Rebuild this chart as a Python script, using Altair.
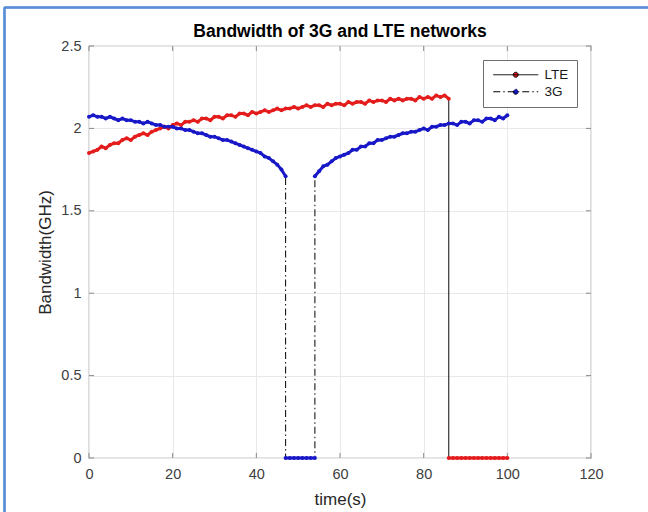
import altair as alt
import pandas as pd

# ---------------- data ----------------
chart_title = "Bandwidth of 3G and LTE networks"
x_ticks = [0, 20, 40, 60, 80, 100, 120]
y_ticks = [0, 0.5, 1, 1.5, 2, 2.5]

lte_time = list(range(0, 87)) + list(range(86, 101))
lte_bw = [
    1.85, 1.86, 1.87, 1.89, 1.88, 1.90, 1.91, 1.91, 1.93, 1.94,
    1.93, 1.95, 1.96, 1.97, 1.96, 1.98, 1.99, 2.00, 2.01, 2.00,
    2.02, 2.03, 2.02, 2.04, 2.04, 2.05, 2.04, 2.06, 2.06, 2.05,
    2.07, 2.07, 2.06, 2.08, 2.08, 2.07, 2.09, 2.09, 2.08, 2.10,
    2.09, 2.10, 2.11, 2.10, 2.11, 2.12, 2.11, 2.12, 2.12, 2.13,
    2.12, 2.13, 2.14, 2.13, 2.14, 2.14, 2.13, 2.15, 2.14, 2.15,
    2.15, 2.14, 2.16, 2.15, 2.16, 2.16, 2.15, 2.17, 2.16, 2.17,
    2.17, 2.16, 2.18, 2.17, 2.18, 2.17, 2.18, 2.18, 2.17, 2.19,
    2.18, 2.19, 2.18, 2.20, 2.19, 2.20, 2.18,
    0, 0, 0, 0, 0, 0, 0, 0, 0, 0, 0, 0, 0, 0, 0,
]
lte_seg = [1] * 87 + [2] * 15

g3_time = list(range(0, 48)) + list(range(47, 55)) + list(range(54, 101))
g3_bw = [
    2.07, 2.08, 2.07, 2.07, 2.06, 2.07, 2.06, 2.05, 2.06, 2.05,
    2.05, 2.04, 2.04, 2.03, 2.04, 2.03, 2.02, 2.02, 2.01, 2.01,
    2.01, 2.00, 2.00, 1.99, 1.99, 1.98, 1.97, 1.97, 1.96, 1.95,
    1.95, 1.94, 1.93, 1.93, 1.92, 1.91, 1.90, 1.89, 1.88, 1.87,
    1.86, 1.85, 1.83, 1.82, 1.80, 1.78, 1.75, 1.71,
    0, 0, 0, 0, 0, 0, 0, 0,
    1.71, 1.74, 1.77, 1.78, 1.80, 1.82, 1.83, 1.84, 1.85, 1.87,
    1.87, 1.89, 1.89, 1.91, 1.91, 1.93, 1.93, 1.94, 1.95, 1.95,
    1.96, 1.97, 1.97, 1.98, 1.98, 1.99, 2.00, 1.99, 2.01, 2.01,
    2.02, 2.02, 2.03, 2.03, 2.02, 2.04, 2.04, 2.03, 2.05, 2.05,
    2.04, 2.06, 2.06, 2.05, 2.07, 2.06, 2.08,
]
g3_seg = [1] * 48 + [2] * 8 + [3] * 47

series_names = ["LTE", "3G"]
series_colors = ["#e41c1c", "#1818c8"]
series_dash = [[1, 0], [7, 3, 1.5, 3]]

# ---------------- table ----------------
rows = []
for i, (t, v, s) in enumerate(zip(lte_time, lte_bw, lte_seg)):
    rows.append({"t": t, "bw": v, "series": "LTE", "seg": f"LTE{s}", "idx": i})
for i, (t, v, s) in enumerate(zip(g3_time, g3_bw, g3_seg)):
    rows.append({"t": t, "bw": v, "series": "3G", "seg": f"3G{s}", "idx": i})
df = pd.DataFrame(rows)

xt = pd.DataFrame({"t": x_ticks})
yt = pd.DataFrame({"bw": y_ticks})

FONT = "Liberation Sans"
AX = "#8a8a8a"
W, H = 502, 412

xscale = alt.Scale(domain=[0, 120], nice=False, zero=False)
yscale = alt.Scale(domain=[0, 2.5], nice=False, zero=False)

x_enc = alt.X(
    "t:Q", scale=xscale,
    axis=alt.Axis(values=x_ticks, format="d", title="time(s)", grid=True,
                  gridColor="#e8e8e8", domain=False, ticks=False, labelFlush=False,
                  labelFont=FONT, labelFontSize=14.5, labelColor="#404040",
                  labelPadding=9, titleFont=FONT, titleFontSize=17,
                  titleFontWeight="normal", titleColor="#262626", titlePadding=11),
)
y_enc = alt.Y(
    "bw:Q", scale=yscale,
    axis=alt.Axis(values=y_ticks, format="~g", title="Bandwidth(GHz)", grid=True,
                  gridColor="#e8e8e8", domain=False, ticks=False, labelFlush=False,
                  labelFont=FONT, labelFontSize=14.5, labelColor="#404040",
                  labelPadding=8, titleFont=FONT, titleFontSize=17,
                  titleFontWeight="normal", titleColor="#262626", titlePadding=6),
)

legend_path = "M-4.5,0H4.5M-0.5,0A0.5,0.5 0 1,0 0.5,0A0.5,0.5 0 1,0 -0.5,0"
leg = alt.Legend(
    title=None, orient="none", legendX=394, legendY=14,
    symbolType=legend_path, symbolSize=100, symbolStrokeWidth=1,
    symbolStrokeColor="black", symbolOffset=18, labelFont=FONT, labelFontSize=13.5,
    labelColor="#1a1a1a", labelOffset=22, padding=8, rowPadding=2,
    strokeColor="#6e6e6e", fillColor="white",
)

base = alt.Chart(df)

black_line = base.mark_line(strokeWidth=1, color="black").encode(
    x=x_enc, y=y_enc, detail="series:N", order="idx:Q",
    strokeDash=alt.StrokeDash("series:N", scale=alt.Scale(domain=series_names, range=series_dash), legend=leg),
)

color_lines = []
for name, col in zip(series_names, series_colors):
    color_lines.append(
        base.transform_filter(alt.datum.series == name)
        .mark_line(strokeWidth=3, color=col)
        .encode(x="t:Q", y="bw:Q", detail="seg:N", order="idx:Q")
    )

points = base.mark_point(filled=True, size=16, opacity=1).encode(
    x="t:Q", y="bw:Q",
    color=alt.Color("series:N", scale=alt.Scale(domain=series_names, range=series_colors), legend=leg),
)

tick_b = alt.Chart(xt).mark_rule(color=AX, strokeWidth=1).encode(
    x=alt.X("t:Q", scale=xscale), y=alt.value(H), y2=alt.value(H - 5))
tick_t = alt.Chart(xt).mark_rule(color=AX, strokeWidth=1).encode(
    x=alt.X("t:Q", scale=xscale), y=alt.value(0), y2=alt.value(5))
tick_l = alt.Chart(yt).mark_rule(color=AX, strokeWidth=1).encode(
    y=alt.Y("bw:Q", scale=yscale), x=alt.value(0), x2=alt.value(5))
tick_r = alt.Chart(yt).mark_rule(color=AX, strokeWidth=1).encode(
    y=alt.Y("bw:Q", scale=yscale), x=alt.value(W), x2=alt.value(W - 5))

title_text = alt.Chart(pd.DataFrame({"label": [chart_title]})).mark_text(
    font=FONT, fontSize=17.5, fontWeight="bold", color="black",
    align="center", baseline="middle",
).encode(x=alt.value(W / 2), y=alt.value(-14), text="label:N")

frame_top = alt.Chart(xt).mark_rule(color="#5b8ed6", strokeWidth=1.5).encode(
    x=alt.value(-84.5), x2=alt.value(W + 57), y=alt.value(-38.5))
frame_left = alt.Chart(xt).mark_rule(color="#5b8ed6", strokeWidth=1.5).encode(
    x=alt.value(-84.5), y=alt.value(-38.5), y2=alt.value(H + 54))

chart = alt.layer(
    tick_b, tick_t, tick_l, tick_r,
    black_line, *color_lines, points,
    title_text, frame_top, frame_left,
).properties(
    width=W, height=H,
    autosize=alt.AutoSizeParams(type="none"),
    padding={"left": 89, "top": 46, "right": 57, "bottom": 54},
    background="white",
).configure_view(stroke=AX, strokeWidth=1.2).configure_legend(
    strokeColor="#6e6e6e", fillColor="white", padding=8, cornerRadius=0,
)

chart.save("out.html", embed_options={"renderer": "svg", "actions": False})
